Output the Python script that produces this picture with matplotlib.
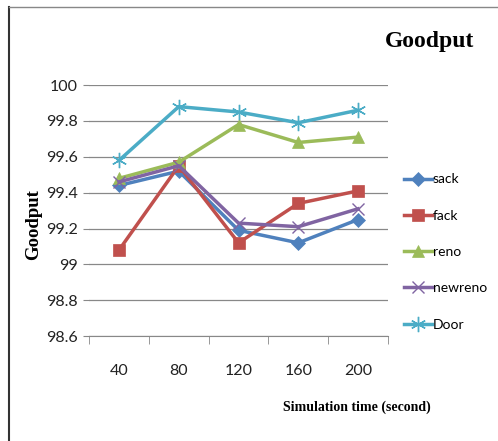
import matplotlib.pyplot as plt
from matplotlib.lines import Line2D

times = ["40", "80", "120", "160", "200"]
sack = [99.44, 99.52, 99.19, 99.12, 99.25]
fack = [99.08, 99.55, 99.12, 99.34, 99.41]
reno = [99.48, 99.57, 99.78, 99.68, 99.71]
newreno = [99.46, 99.55, 99.23, 99.21, 99.31]
door = [99.58, 99.88, 99.85, 99.79, 99.86]

TICK_FONT = ["Lato", "DejaVu Sans"]
SERIF = ["Liberation Serif", "DejaVu Serif"]

fig = plt.figure(figsize=(4.98, 4.41), dpi=100)

# outer frame (left and top edges only visible)
fig.add_artist(Line2D([0.018, 0.018], [0, 0.984], color="#333333", lw=1.5))
fig.add_artist(Line2D([0.018, 1], [0.984, 0.984], color="#888888", lw=1.0))

ax = fig.add_axes([0.179, 0.238, 0.600, 0.569])
x = range(1, len(times) + 1)

series = [
    ("sack", sack, "#4F81BD", "D", 7),
    ("fack", fack, "#C0504D", "s", 9),
    ("reno", reno, "#9BBB59", "^", 9),
    ("newreno", newreno, "#8064A2", "x", 9),
    ("Door", door, "#4BACC6", (6, 2, 0), 11),
]
for name, vals, col, mk, ms in series:
    thin = mk == "x" or isinstance(mk, tuple)
    ax.plot(x, vals, color=col, lw=2.5, marker=mk, markersize=ms,
            markeredgewidth=1.0 if thin else 0.5,
            markeredgecolor=col, label=name)

ax.set_ylim(98.6, 100)
ax.set_yticks([98.6, 98.8, 99, 99.2, 99.4, 99.6, 99.8, 100])
ax.set_yticklabels(["98.6", "98.8", "99", "99.2", "99.4", "99.6", "99.8", "100"],
                   family=TICK_FONT, fontsize=11.5, color="#222222")
ax.set_xlim(0.5, 5.5)
ax.set_xticks(list(x))
ax.set_xticklabels(times, family=TICK_FONT, fontsize=11.5, color="#222222")
ax.set_xticks([0.5, 1.5, 2.5, 3.5, 4.5, 5.5], minor=True)
ax.tick_params(axis="x", which="major", length=0, pad=20)
ax.tick_params(axis="x", which="minor", length=6, color="#888888")
ax.tick_params(axis="y", length=4, color="#888888", pad=4)

ax.yaxis.grid(True, color="#888888", lw=0.9)
ax.set_axisbelow(True)
for s in ["left", "right", "top"]:
    ax.spines[s].set_visible(False)
ax.spines["bottom"].set_color("#888888")

fig.text(0.068, 0.49, "Goodput", family=SERIF, fontweight="bold", fontsize=13.5,
         rotation=90, ha="center", va="center")
fig.text(0.717, 0.077, "Simulation time (second)", family=SERIF, fontweight="bold",
         fontsize=10, ha="center", va="center")
fig.text(0.862, 0.907, "Goodput", family=SERIF, fontweight="bold",
         fontsize=17, ha="center", va="center")

leg = ax.legend(loc="center left", bbox_to_anchor=(1.03, 0.335), frameon=False,
                prop={"family": TICK_FONT, "size": 10}, handlelength=2.0,
                handletextpad=0.1, labelspacing=1.75, borderpad=0.2,
                borderaxespad=0.3)

fig.savefig("out.png", dpi=100)
